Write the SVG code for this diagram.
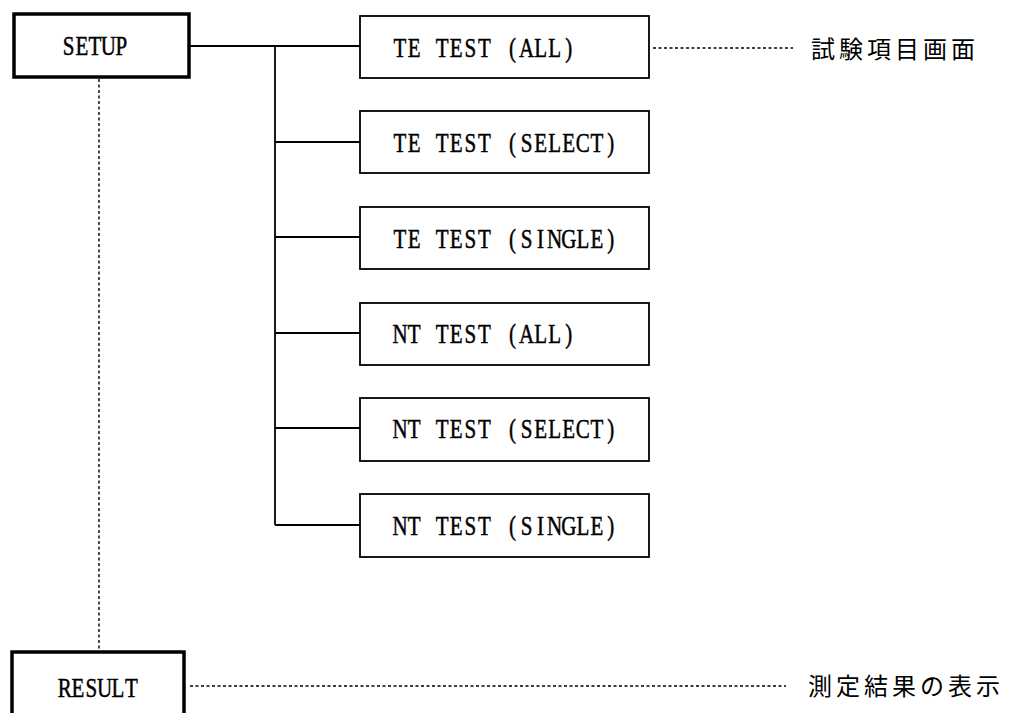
<svg xmlns="http://www.w3.org/2000/svg" width="1011" height="713" viewBox="0 0 1011 713">
<style>
.bg{fill:#fff}
.main{fill:#fff;stroke:#000;stroke-width:3.5}
.box{fill:#fff;stroke:#000;stroke-width:1.8}
.ln{fill:none;stroke:#000;stroke-width:1.8}
.dot{fill:none;stroke:#000;stroke-width:1.4;stroke-dasharray:3 2.5}
.lbl{font-family:"Liberation Serif",serif;font-size:28px;fill:#000;stroke:#000;stroke-width:0.5;text-anchor:middle}
.jp{font-family:"Noto Sans CJK JP",sans-serif;font-size:24px;letter-spacing:4px;fill:#000}
</style>
<rect class="bg" x="0" y="0" width="1011" height="713"/>
<g id="connectors">
<line class="ln" x1="189" y1="46" x2="360" y2="46"/>
<line class="ln" x1="275" y1="46" x2="275" y2="525"/>
<line class="ln" x1="275" y1="142" x2="360" y2="142"/>
<line class="ln" x1="275" y1="237" x2="360" y2="237"/>
<line class="ln" x1="275" y1="333" x2="360" y2="333"/>
<line class="ln" x1="275" y1="428" x2="360" y2="428"/>
<line class="ln" x1="275" y1="525" x2="360" y2="525"/>
<line class="dot" x1="99" y1="79" x2="99" y2="650"/>
<line class="dot" x1="653" y1="48" x2="793" y2="48"/>
<line class="dot" x1="190" y1="686" x2="786" y2="686"/>
</g>
<g id="setup">
<rect class="main" x="14" y="14" width="175" height="63"/>
<text class="lbl" transform="scale(0.75,1)" x="91.5 109.1 126.7 144.3 161.9" y="55">SETUP</text>
</g>
<g id="te-all">
<rect class="box" x="360" y="16" width="289" height="62"/>
<text class="lbl" transform="scale(0.75,1)" x="533.3 552.1 570.8 589.6 608.3 627.1 645.8 664.6 683.3 702.0 720.8 739.5 758.3" y="57">TE TEST (ALL)</text>
</g>
<g id="te-select">
<rect class="box" x="360" y="111" width="289" height="62"/>
<text class="lbl" transform="scale(0.75,1)" x="533.3 552.1 570.8 589.6 608.3 627.1 645.8 664.6 683.3 702.0 720.8 739.5 758.3 777.1 795.8 814.5" y="152">TE TEST (SELECT)</text>
</g>
<g id="te-single">
<rect class="box" x="360" y="207" width="289" height="62"/>
<text class="lbl" transform="scale(0.75,1)" x="533.3 552.1 570.8 589.6 608.3 627.1 645.8 664.6 683.3 702.0 720.8 739.5 758.3 777.1 795.8 814.5" y="248">TE TEST (SINGLE)</text>
</g>
<g id="nt-all">
<rect class="box" x="360" y="303" width="289" height="62"/>
<text class="lbl" transform="scale(0.75,1)" x="533.3 552.1 570.8 589.6 608.3 627.1 645.8 664.6 683.3 702.0 720.8 739.5 758.3" y="343">NT TEST (ALL)</text>
</g>
<g id="nt-select">
<rect class="box" x="360" y="398" width="289" height="63"/>
<text class="lbl" transform="scale(0.75,1)" x="533.3 552.1 570.8 589.6 608.3 627.1 645.8 664.6 683.3 702.0 720.8 739.5 758.3 777.1 795.8 814.5" y="438">NT TEST (SELECT)</text>
</g>
<g id="nt-single">
<rect class="box" x="360" y="494" width="289" height="63"/>
<text class="lbl" transform="scale(0.75,1)" x="533.3 552.1 570.8 589.6 608.3 627.1 645.8 664.6 683.3 702.0 720.8 739.5 758.3 777.1 795.8 814.5" y="535">NT TEST (SINGLE)</text>
</g>
<g id="result">
<rect class="main" x="12" y="652" width="172" height="70"/>
<text class="lbl" transform="scale(0.75,1)" x="86.2 104.0 121.8 139.6 157.3 175.1" y="697">RESULT</text>
</g>
<g id="note-setup">
<text class="jp" x="811" y="58">試験項目画面</text>
</g>
<g id="note-result">
<text class="jp" x="808" y="695">測定結果の表示</text>
</g>
</svg>
